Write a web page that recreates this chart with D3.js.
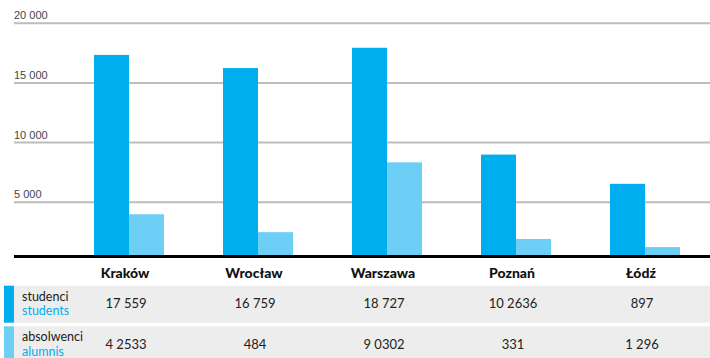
<!DOCTYPE html>
<html>
<head>
<meta charset="utf-8">
<script src="https://cdn.jsdelivr.net/npm/d3@7"></script>
<style>
  html, body { margin: 0; padding: 0; background: #fff; }
  svg { display: block; font-family: "Lato", "Noto Sans", sans-serif; }
</style>
</head>
<body>
<svg id="chart" width="710" height="358"></svg>
<script>
// Cities and series
const cities = ["Kraków", "Wrocław", "Warszawa", "Poznań", "Łódź"];
const students = [17300, 16200, 17900, 8950, 6500];
const alumni = [3950, 2450, 8300, 1880, 1200];
const yTicks = [5000, 10000, 15000, 20000];

// Table rows shown under the chart
const studentsTable = ["17 559", "16 759", "18 727", "10 2636", "897"];
const alumniTable = ["4 2533", "484", "9 0302", "331", "1 296"];
const seriesLabelsPl = ["studenci", "absolwenci"];
const seriesLabelsEn = ["students", "alumnis"];

const colors = { students: "#00aeef", alumni: "#6dcff6" };

const svg = d3.select("#chart");

const left = 14, right = 710;
const baseline = 255;

const y = d3.scaleLinear().domain([0, 20000]).range([261.4, 22.7]);
const x = d3.scaleBand().domain(cities).range([64.5, 709.5]).padding(0);
const sub = d3.scaleBand().domain(["students", "alumni"])
  .range([x.bandwidth() / 2 - 35, x.bandwidth() / 2 + 35]).padding(0);

const locale = d3.formatLocale({ decimal: ",", thousands: " ", grouping: [3], currency: ["", ""] });
const fmt = locale.format(",");

// Gridlines with labels sitting above each line
const axis = d3.axisRight(y).tickValues(yTicks).tickSize(right - left).tickFormat(fmt);
const gAxis = svg.append("g").attr("transform", `translate(${left},0)`).call(axis);
gAxis.select(".domain").remove();
gAxis.selectAll(".tick line").attr("stroke", "#bdbdbd").attr("stroke-width", 2);
gAxis.selectAll(".tick text")
  .attr("x", 0).attr("dy", -4).attr("text-anchor", "start")
  .attr("fill", "#444").style("font-size", "11px");

// Bars
const rows = cities.map((c, i) => ({ city: c, students: students[i], alumni: alumni[i] }));
const groups = svg.append("g").selectAll("g").data(rows).join("g")
  .attr("transform", d => `translate(${x(d.city)},0)`);
groups.selectAll("rect")
  .data(d => ["students", "alumni"].map(k => ({ key: k, value: d[k] })))
  .join("rect")
  .attr("x", d => sub(d.key))
  .attr("width", sub.bandwidth())
  .attr("y", d => y(d.value))
  .attr("height", d => baseline - y(d.value))
  .attr("fill", d => colors[d.key]);

// Baseline
svg.append("rect").attr("x", left).attr("y", baseline).attr("width", right - left).attr("height", 3).attr("fill", "#000");

// Column headers
svg.append("g").selectAll("text").data(cities).join("text")
  .attr("x", d => x(d) + x.bandwidth() / 2 - 4)
  .attr("y", 277.5)
  .attr("text-anchor", "middle")
  .attr("fill", "#111")
  .style("font-size", "14px").style("font-weight", "900")
  .text(d => d);

// Table rows
const tableRows = [
  { key: "students", top: 285.7, h: 37, vals: studentsTable, pl: seriesLabelsPl[0], en: seriesLabelsEn[0] },
  { key: "alumni", top: 326.3, h: 32, vals: alumniTable, pl: seriesLabelsPl[1], en: seriesLabelsEn[1] }
];
const tr = svg.append("g").selectAll("g").data(tableRows).join("g");
tr.append("rect").attr("x", left).attr("y", d => d.top).attr("width", right - left).attr("height", d => d.h).attr("fill", "#ededed");
tr.append("rect").attr("x", 4).attr("y", d => d.top).attr("width", 10).attr("height", d => d.h).attr("fill", d => colors[d.key]);
tr.append("text").attr("x", 22).attr("y", d => d.top + 15)
  .attr("fill", "#222").style("font-size", "12.5px").text(d => d.pl);
tr.append("text").attr("x", 22).attr("y", d => d.top + 29.5)
  .attr("fill", colors.students).style("font-size", "12.5px").text(d => d.en);
tr.each(function (d) {
  d3.select(this).selectAll("text.val").data(d.vals).join("text")
    .attr("class", "val")
    .attr("x", (v, i) => x(cities[i]) + x.bandwidth() / 2 - 3)
    .attr("y", d.top + 22.5)
    .attr("text-anchor", "middle")
    .attr("fill", "#222")
    .style("font-size", "13px")
    .text(v => v);
});
</script>
</body>
</html>
